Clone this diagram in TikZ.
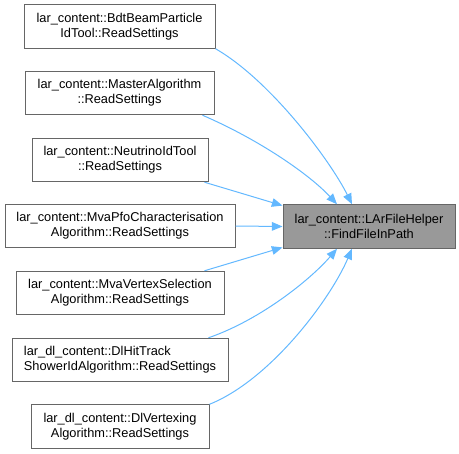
\documentclass[tikz,border=0pt]{standalone}
\usepackage{fontspec}
\setmainfont{Liberation Sans}
\usetikzlibrary{arrows.meta}
\definecolor{edgeblue}{HTML}{63B8FF}
\definecolor{boxborder}{HTML}{666666}
\definecolor{targetfill}{HTML}{999999}
\begin{document}
\begin{tikzpicture}[x=0.75pt,y=-0.75pt,
  box/.style={draw=boxborder,fill=white,line width=0.75pt,minimum height=32.6pt,inner sep=0pt,align=center,font=\fontsize{9.6}{11.3}\selectfont},
  tgt/.style={box,fill=targetfill},
  conn/.style={draw=edgeblue,line width=0.75pt,-{Triangle[length=8pt,width=6.5pt]}}]
\useasboundingbox (0,0) rectangle (459,453);
\node[box,minimum width=143.25pt] (b1) at (119.5,26.5) {lar\_content::BdtBeamParticle\\IdTool::ReadSettings};
\node[box,minimum width=141.75pt] (b2) at (119.5,93) {lar\_content::MasterAlgorithm\\::ReadSettings};
\node[box,minimum width=132pt] (b3) at (120,160) {lar\_content::NeutrinoIdTool\\::ReadSettings};
\node[box,minimum width=172.5pt] (b4) at (120,226) {lar\_content::MvaPfoCharacterisation\\Algorithm::ReadSettings};
\node[box,minimum width=156pt] (b5) at (120,293) {lar\_content::MvaVertexSelection\\Algorithm::ReadSettings};
\node[box,minimum width=162pt,align=left] (b6) at (120,360) {lar\_dl\_content::DlHitTrack\\ShowerIdAlgorithm::ReadSettings};
\node[box,minimum width=133.5pt] (b7) at (120,426.5) {lar\_dl\_content::DlVertexing\\Algorithm::ReadSettings};
\node[tgt,minimum width=129pt] (t) at (369,226.5) {lar\_content::LArFileHelper\\::FindFileInPath};
\draw[conn] (b1.south east) .. controls (270,80) and (330,160) .. ([xshift=-12.75pt]t.north);
\draw[conn] ([xshift=-9pt]b2.south east) .. controls (260,140) and (310,175) .. ([xshift=-24pt]t.north);
\draw[conn] ([xshift=-3pt]b3.south east) -- ([yshift=-1pt]t.north west);
\draw[conn] (b4.east) -- (t.west);
\draw[conn] ([xshift=-15pt]b5.north east) -- ([yshift=1pt]t.south west);
\draw[conn] ([xshift=-15pt]b6.north east) .. controls (260,320) and (310,280) .. ([xshift=-24pt]t.south);
\draw[conn] (b7.north east) .. controls (270,380) and (330,300) .. ([xshift=-12.75pt]t.south);
\end{tikzpicture}
\end{document}
